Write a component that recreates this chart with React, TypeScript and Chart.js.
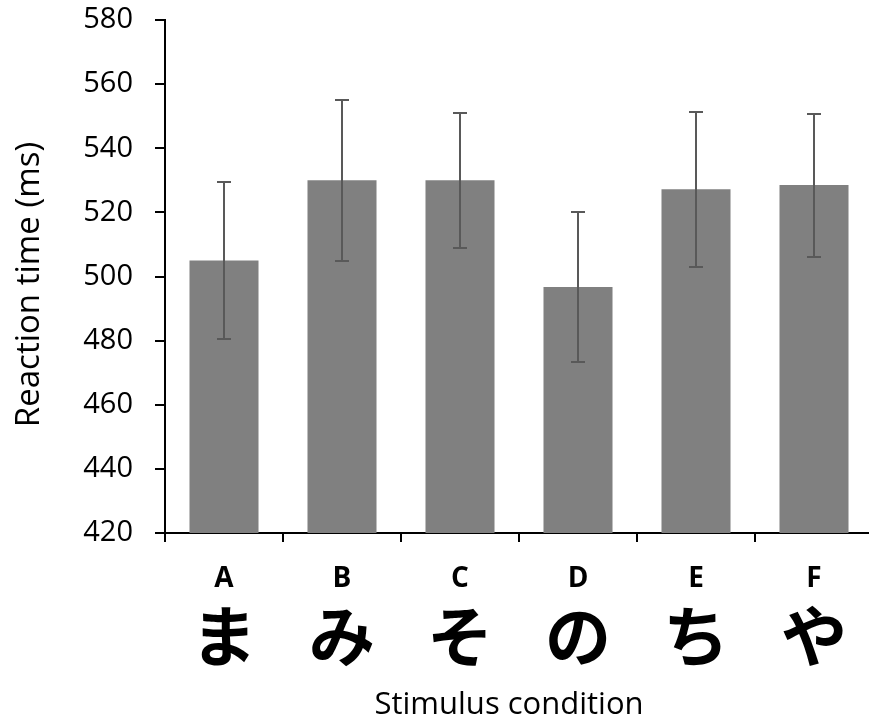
import React, { useEffect, useRef } from 'react';
import { Chart, registerables } from 'chart.js';

Chart.register(...registerables);

const categories = ['A', 'B', 'C', 'D', 'E', 'F'];
const kana = ['ま', 'み', 'そ', 'の', 'ち', 'や'];
const meanRT = [505, 530, 530, 496.7, 527.2, 528.5];
const errRT = [24.5, 25.2, 21.1, 23.4, 24.2, 22.3];
const yMin = 420;
const yMax = 580;
const yStep = 20;
const yTitle = 'Reaction time (ms)';
const xTitle = 'Stimulus condition';

const errorBarPlugin = {
  id: 'errorBars',
  afterDatasetsDraw(chart: any) {
    const { ctx } = chart;
    const xs = chart.scales.x;
    const ys = chart.scales.y;
    ctx.save();
    ctx.strokeStyle = '#595959';
    ctx.lineWidth = 2;
    meanRT.forEach((m, i) => {
      const x = Math.round(xs.getPixelForValue(i));
      const top = Math.round(ys.getPixelForValue(m + errRT[i]));
      const bot = Math.round(ys.getPixelForValue(m - errRT[i]));
      ctx.beginPath();
      ctx.moveTo(x, top);
      ctx.lineTo(x, bot);
      ctx.moveTo(x - 7, top);
      ctx.lineTo(x + 7, top);
      ctx.moveTo(x - 7, bot);
      ctx.lineTo(x + 7, bot);
      ctx.stroke();
    });
    ctx.restore();
  },
};

const axisTitlePlugin = {
  id: 'axisTitles',
  afterDraw(chart: any) {
    const { ctx, chartArea } = chart;
    ctx.save();
    ctx.fillStyle = '#000';
    ctx.font = '31px "Open Sans"';
    ctx.textAlign = 'center';
    ctx.textBaseline = 'alphabetic';
    ctx.fillText(xTitle, (chartArea.left + chartArea.right) / 2 - 10, chart.height - 9);
    ctx.translate(39, (chartArea.top + chartArea.bottom) / 2 + 8);
    ctx.rotate(-Math.PI / 2);
    ctx.font = '33px "Open Sans"';
    ctx.fillText(yTitle, 0, 0);
    ctx.restore();
  },
};

export default function App() {
  const ref = useRef<HTMLCanvasElement | null>(null);

  useEffect(() => {
    if (!ref.current) return;
    const chart = new Chart(ref.current, {
      type: 'bar',
      data: {
        labels: categories,
        datasets: [
          {
            data: meanRT,
            backgroundColor: '#808080',
            borderWidth: 0,
            categoryPercentage: 1,
            barPercentage: 0.585,
            xAxisID: 'x',
            yAxisID: 'y',
          },
        ],
      },
      options: {
        animation: false,
        responsive: false,
        devicePixelRatio: 1,
        layout: { padding: { top: 20, left: 0, right: 0, bottom: 0 } },
        plugins: {
          legend: { display: false },
          tooltip: { enabled: false },
        },
        scales: {
          y: {
            type: 'linear',
            position: 'left',
            min: yMin,
            max: yMax,
            afterFit: (s: any) => {
              s.width = 165;
              s.paddingTop = 0;
              s.paddingBottom = 0;
            },
            ticks: {
              stepSize: yStep,
              padding: 22,
              color: '#000',
              font: { family: 'Open Sans', size: 29 },
            },
            grid: {
              drawOnChartArea: false,
              drawTicks: true,
              tickLength: 10,
              color: '#000',
              lineWidth: 2,
            },
            border: { display: true, color: '#000', width: 2 },
          },
          x: {
            type: 'category',
            position: 'bottom',
            offset: true,
            afterFit: (s: any) => {
              s.height = 60;
            },
            ticks: {
              padding: 20,
              color: '#000',
              font: { family: 'Open Sans', size: 28, weight: 'bold' },
            },
            grid: {
              offset: true,
              drawOnChartArea: false,
              drawTicks: true,
              tickLength: 9,
              color: '#000',
              lineWidth: 2,
            },
            border: { display: true, color: '#000', width: 2 },
          },
          x2: {
            type: 'category',
            position: 'bottom',
            labels: kana,
            offset: true,
            weight: 1,
            afterFit: (s: any) => {
              s.height = 130;
            },
            ticks: {
              padding: 10,
              color: '#000',
              font: { family: 'Noto Sans CJK JP', size: 66, weight: 'bold', lineHeight: 1 },
            },
            grid: { display: false, drawTicks: false },
            border: { display: false },
          },
        },
      } as any,
      plugins: [errorBarPlugin, axisTitlePlugin],
    });
    return () => chart.destroy();
  }, []);

  return (
    <div
      style={{
        position: 'fixed',
        left: 0,
        top: 0,
        width: 869,
        height: 723,
        overflow: 'hidden',
        background: '#fff',
      }}
    >
      <canvas ref={ref} width={873} height={723} style={{ display: 'block' }} />
    </div>
  );
}
